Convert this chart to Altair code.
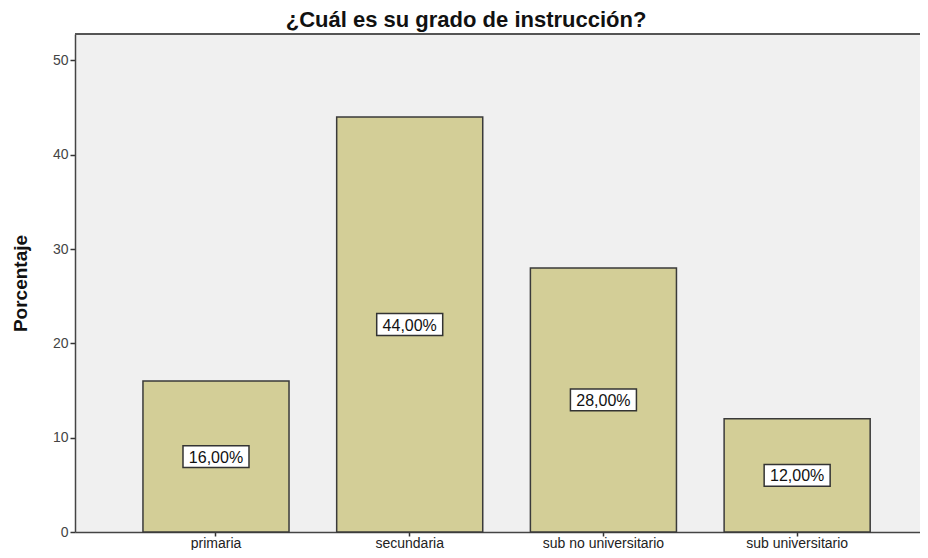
import altair as alt
import pandas as pd

categories = ["primaria", "secundaria", "sub no universitario", "sub universitario"]
percentages = [16.0, 44.0, 28.0, 12.0]
y_ticks = [0, 10, 20, 30, 40, 50]
y_top = 52.8

labels = [f"{v:.2f}".replace(".", ",") + "%" for v in percentages]
df = pd.DataFrame({
    "cat": categories,
    "pct": percentages,
    "mid": [v / 2 for v in percentages],
    "label": labels,
})

FONT = "Liberation Sans, Arial, sans-serif"

x_enc = alt.X(
    "cat:N",
    sort=categories,
    title=None,
    scale=alt.Scale(paddingInner=0.246, paddingOuter=0.304, align=0.577),
    axis=alt.Axis(
        labelAngle=0, labelFont=FONT, labelFontSize=14, labelColor="#222",
        tickSize=4, tickColor="#333", tickWidth=1.5, labelPadding=0,
        domainColor="#444", domainWidth=1.5, grid=False,
    ),
)
y_scale = alt.Scale(domain=[0, y_top], nice=False, zero=True)
y_axis = alt.Axis(
    values=y_ticks, title="Porcentaje", titleFont=FONT, titleFontSize=19,
    titleFontWeight="bold", titleColor="#111", titlePadding=22,
    labelFont=FONT, labelFontSize=14, labelColor="#444", labelPadding=2,
    tickSize=5, tickColor="#333", tickWidth=1.5,
    domainColor="#444", domainWidth=1.5, grid=False,
)

bars = alt.Chart(df).mark_bar(
    color="#d3ce97", stroke="#3a3a3a", strokeWidth=1.5
).encode(
    x=x_enc,
    y=alt.Y("pct:Q", scale=y_scale, axis=y_axis),
)

boxes = alt.Chart(df).mark_point(
    shape="M-1,-0.33L1,-0.33L1,0.33L-1,0.33Z",
    size=4356, fill="white", stroke="#333", strokeWidth=1.5,
    opacity=1, filled=False,
).encode(
    x=alt.X("cat:N", sort=categories),
    y=alt.Y("mid:Q"),
)

texts = alt.Chart(df).mark_text(
    font=FONT, fontSize=16, color="#111", baseline="middle", align="center", dy=1
).encode(
    x=alt.X("cat:N", sort=categories),
    y=alt.Y("mid:Q"),
    text="label:N",
)

top_line = alt.Chart(df).mark_rule(color="#555", strokeWidth=1.5).encode(
    y=alt.datum(y_top)
)

chart = alt.layer(bars, top_line, boxes, texts).properties(
    width=845,
    height=498,
    autosize=alt.AutoSizeParams(type="none"),
    padding={"left": 67, "top": 26, "right": 0, "bottom": 18},
    background="white",
    title=alt.TitleParams(
        "¿Cuál es su grado de instrucción?", font=FONT, fontSize=22,
        fontWeight="bold", color="#111", anchor="middle", offset=0,
        baseline="alphabetic", frame="bounds", dy=16,
    ),
).configure_view(
    fill="#f0f0f0", stroke=None
)

chart.save("out.html", embed_options={"renderer": "svg", "actions": False})
